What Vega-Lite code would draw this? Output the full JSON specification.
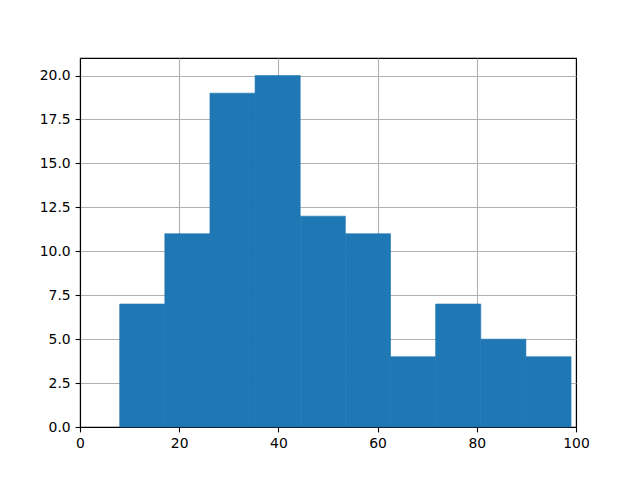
{
  "$schema": "https://vega.github.io/schema/vega-lite/v6.json",
  "autosize": "none",
  "width": 496,
  "height": 369,
  "padding": {"left": 80, "top": 58, "right": 64, "bottom": 53},
  "background": "white",
  "config": {
    "view": {"stroke": "black", "strokeWidth": 1.1},
    "axis": {
      "font": "DejaVu Sans",
      "labelFont": "DejaVu Sans",
      "labelFontSize": 13.9,
      "labelColor": "black",
      "labelFlush": false,
      "domainColor": "black",
      "domainWidth": 1.1,
      "tickColor": "black",
      "tickWidth": 1.1,
      "tickSize": 4.9,
      "labelPadding": 4.9,
      "grid": true,
      "gridColor": "#b0b0b0",
      "gridWidth": 1.1,
      "zindex": 1,
      "title": null
    }
  },
  "data": {
    "values": [
      {"bin_start": 8.0, "bin_end": 17.1, "count": 7},
      {"bin_start": 17.1, "bin_end": 26.2, "count": 11},
      {"bin_start": 26.2, "bin_end": 35.3, "count": 19},
      {"bin_start": 35.3, "bin_end": 44.4, "count": 20},
      {"bin_start": 44.4, "bin_end": 53.5, "count": 12},
      {"bin_start": 53.5, "bin_end": 62.6, "count": 11},
      {"bin_start": 62.6, "bin_end": 71.7, "count": 4},
      {"bin_start": 71.7, "bin_end": 80.8, "count": 7},
      {"bin_start": 80.8, "bin_end": 89.9, "count": 5},
      {"bin_start": 89.9, "bin_end": 99.0, "count": 4}
    ]
  },
  "mark": {"type": "rect", "color": "#1f77b4", "stroke": "#1f77b4", "strokeWidth": 0.6},
  "encoding": {
    "x": {
      "field": "bin_start",
      "type": "quantitative",
      "scale": {"domain": [0, 100], "nice": false, "zero": false},
      "axis": {
        "values": [0, 20, 40, 60, 80, 100],
        "format": "d",
        "gridColor": {"condition": {"test": "datum.value === 100", "value": "black"}, "value": "#b0b0b0"}
      }
    },
    "x2": {"field": "bin_end"},
    "y": {
      "field": "count",
      "type": "quantitative",
      "scale": {"domain": [0, 21], "nice": false},
      "axis": {"values": [0, 2.5, 5, 7.5, 10, 12.5, 15, 17.5, 20], "format": ".1f"}
    },
    "y2": {"datum": 0}
  }
}
